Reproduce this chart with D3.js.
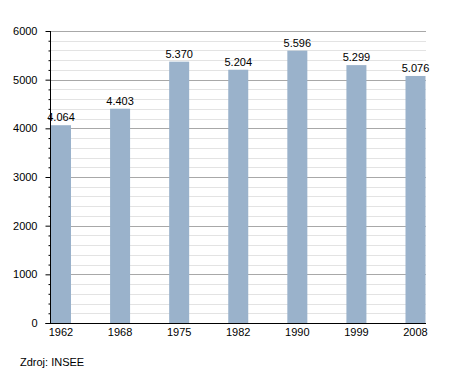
<!DOCTYPE html>
<html>
<head>
<meta charset="utf-8">
<script src="https://cdn.jsdelivr.net/npm/d3@7"></script>
<style>
  body { margin: 0; background: #fff; }
  svg { font-family: "Liberation Sans", Arial, sans-serif; }
</style>
</head>
<body>
<div id="graph"></div>
<script>
// data
var years = ['1962', '1968', '1975', '1982', '1990', '1999', '2008'];
var population = [4064, 4403, 5370, 5204, 5596, 5299, 5076];
var valueLabels = ['4.064', '4.403', '5.370', '5.204', '5.596', '5.299', '5.076'];
var yTicks = [0, 1000, 2000, 3000, 4000, 5000, 6000];
var sourceText = 'Zdroj: INSEE';

// svg container
var fullWidth = 455, fullHeight = 373;
var plotLeft = 50.5, plotRight = 426, plotTop = 31, plotBottom = 323;

var container = d3.select('#graph').append('svg')
  .attr('width', fullWidth)
  .attr('height', fullHeight);

var x = d3.scalePoint()
  .domain(years)
  .range([61, 415.5]);

var y = d3.scaleLinear()
  .domain([0, 6000])
  .range([plotBottom, plotTop]);

var barWidth = 20;

// grid: minor every 200, major every 1000
var minor = d3.range(200, 6001, 200).filter(function(v) { return v % 1000 !== 0; });
container.append('g').selectAll('line')
  .data(minor)
  .enter().append('line')
  .attr('x1', plotLeft).attr('x2', plotRight)
  .attr('y1', function(d) { return Math.round(y(d)) + 0.5; })
  .attr('y2', function(d) { return Math.round(y(d)) + 0.5; })
  .style('stroke', '#e3e3e3')
  .style('stroke-width', 1);

container.append('g').selectAll('line')
  .data(yTicks.slice(1))
  .enter().append('line')
  .attr('x1', plotLeft).attr('x2', plotRight)
  .attr('y1', function(d) { return Math.round(y(d)) + 0.5; })
  .attr('y2', function(d) { return Math.round(y(d)) + 0.5; })
  .style('stroke', '#a8a8a8')
  .style('stroke-width', 1);

// bars
container.append('g').selectAll('rect')
  .data(population)
  .enter().append('rect')
  .attr('x', function(d, i) { return x(years[i]) - barWidth / 2; })
  .attr('y', function(d) { return y(d); })
  .attr('width', barWidth)
  .attr('height', function(d) { return y(0) - y(d); })
  .style('fill', '#9ab2cb');

container.append('g').selectAll('text')
  .data(population)
  .enter().append('text')
  .attr('x', function(d, i) { return x(years[i]); })
  .attr('y', function(d) { return y(d) - 4; })
  .attr('text-anchor', 'middle')
  .style('font-size', '11px')
  .style('fill', '#000')
  .text(function(d, i) { return valueLabels[i]; });

// y axis with minor ticks
var yAxis = d3.axisLeft(y)
  .tickValues(yTicks)
  .tickSize(5)
  .tickPadding(8)
  .tickFormat(d3.format('d'));

var yg = container.append('g')
  .attr('transform', 'translate(' + plotLeft + ',0)')
  .call(yAxis);
yg.select('.domain').attr('d', 'M0,' + plotTop + 'V' + plotBottom);
yg.selectAll('text').style('font-size', '11px').style('font-family', '"Liberation Sans", Arial, sans-serif');

var ygMinor = container.append('g')
  .attr('transform', 'translate(' + plotLeft + ',0)')
  .call(d3.axisLeft(y).tickValues(minor).tickSize(2).tickFormat(''));
ygMinor.select('.domain').remove();

// x axis
container.append('line')
  .attr('x1', plotLeft - 5).attr('x2', plotRight)
  .attr('y1', plotBottom + 0.5).attr('y2', plotBottom + 0.5)
  .style('stroke', '#000');

container.append('g').selectAll('text')
  .data(years)
  .enter().append('text')
  .attr('x', function(d) { return x(d); })
  .attr('y', plotBottom + 13)
  .attr('text-anchor', 'middle')
  .style('font-size', '11px')
  .text(function(d) { return d; });

// source
container.append('text')
  .attr('x', 20)
  .attr('y', 366)
  .style('font-size', '11px')
  .text(sourceText);
</script>
</body>
</html>
